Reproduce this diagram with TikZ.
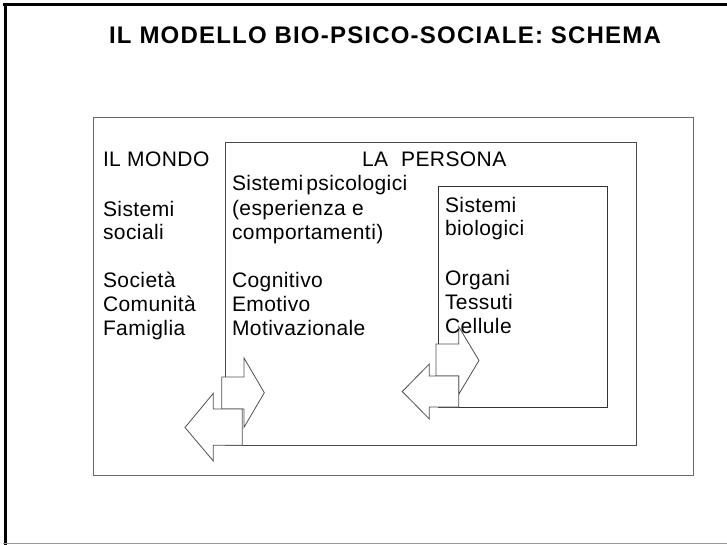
\documentclass[tikz,border=0pt]{standalone}
\usepackage{fontspec}
\setmainfont{Liberation Sans}
\newfontfamily\titlefont[LetterSpace=5]{Liberation Sans}
\newfontfamily\bodyfont[LetterSpace=2]{Liberation Sans}
\definecolor{outergray}{HTML}{6A6A6A}
\definecolor{persgray}{HTML}{4A4A4A}
\definecolor{biogray}{HTML}{333333}
\definecolor{arrgray}{HTML}{505050}
\begin{document}
\begin{tikzpicture}[x=1pt,y=-1pt,
  boxline/.style={line width=1pt},
  blockarrow/.style={draw=arrgray, fill=white, line width=0.8pt, line join=miter},
  txt/.style={anchor=base west, inner sep=0pt, outer sep=0pt, font=\bodyfont\fontsize{21}{24}\selectfont},
  titletxt/.style={anchor=base, inner sep=0pt, font=\titlefont\bfseries\fontsize{24}{26}\selectfont}
]
\useasboundingbox (0,0) rectangle (727,545);
\fill[white] (0,0) rectangle (727,545);
% page frame
\draw[line width=2.6pt, black] (3,4.5) -- (727,4.5);
\draw[line width=3pt, black] (5,3) -- (5,545);
\draw[line width=1.5pt, gray!80] (3,543.5) -- (727,543.5);
% title
\node[titletxt] (title) at (385,43.5) {IL MODELLO BIO-PSICO-SOCIALE: SCHEMA};
% boxes
\draw[boxline, draw=outergray] (93.3,117.3) rectangle (693.3,475.7);
\draw[boxline, draw=persgray] (225,143) rectangle (636.5,445.3);
\draw[line width=0.9pt, draw=biogray] (438,186) rectangle (607,407);
% block arrows, left pair
\path[blockarrow] (221.7,377) -- (244,377) -- (244,358) -- (264.3,392.7) -- (244,427.3) -- (244,409) -- (221.7,409) -- cycle;
\path[blockarrow] (242.3,409) -- (213.3,409) -- (213.3,393.3) -- (185,427.5) -- (213.3,461) -- (213.3,445.3) -- (242.3,445.3) -- cycle;
% block arrows, right pair
\path[blockarrow] (436,344) -- (458.7,344) -- (458.7,326.7) -- (479,360.5) -- (458.7,394.3) -- (458.7,376) -- (436,376) -- cycle;
\path[blockarrow] (458.7,376) -- (429.3,376) -- (429.3,364) -- (402.3,391.5) -- (429.3,419) -- (429.3,407) -- (458.7,407) -- cycle;
% IL MONDO column
\node[txt] (m1) at (103,167) {IL MONDO};
\node[txt] (m2) at (103,216) {Sistemi};
\node[txt] (m3) at (103,240) {sociali};
\node[txt] (m4) at (103,287) {Società};
\node[txt] (m5) at (103,311) {Comunità};
\node[txt] (m6) at (103,335) {Famiglia};
% LA PERSONA column
\node[txt] (p0) at (362,167) {LA\hspace{13pt}PERSONA};
\node[txt] (p1) at (232,191) {Sistemi\hspace{3pt}psicologici};
\node[txt] (p2) at (232,215) {(esperienza e};
\node[txt] (p3) at (232,239) {comportamenti)};
\node[txt] (p4) at (232,287) {Cognitivo};
\node[txt] (p5) at (232,311) {Emotivo};
\node[txt] (p6) at (232,335) {Motivazionale};
% biological column
\node[txt] (b1) at (445,212) {Sistemi};
\node[txt] (b2) at (445,236) {biologici};
\node[txt] (b3) at (445,285) {Organi};
\node[txt] (b4) at (445,309) {Tessuti};
\node[txt] (b5) at (445,333) {Cellule};
\end{tikzpicture}
\end{document}
